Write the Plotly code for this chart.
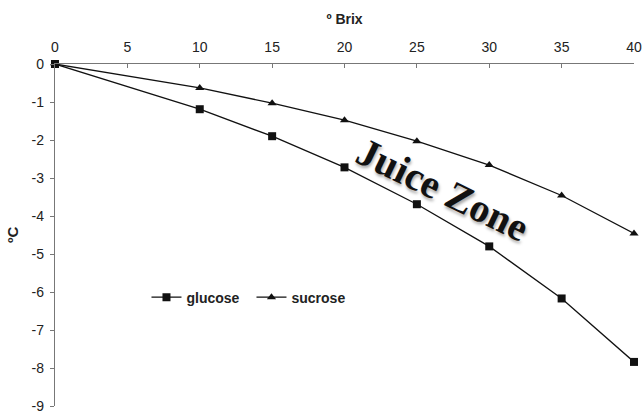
import plotly.graph_objects as go

brix = [0, 10, 15, 20, 25, 30, 35, 40]
glucose = [0, -1.19, -1.9, -2.72, -3.69, -4.8, -6.17, -7.84]
sucrose = [0, -0.63, -1.03, -1.48, -2.03, -2.66, -3.46, -4.46]
x_ticks = [0, 5, 10, 15, 20, 25, 30, 35, 40]
y_ticks = [0, -1, -2, -3, -4, -5, -6, -7, -8, -9]

FONT = "Liberation Sans, Arial, sans-serif"

fig = go.Figure()
fig.add_trace(go.Scatter(
    x=brix, y=glucose, name="glucose", mode="lines+markers",
    line=dict(color="#111111", width=1.3),
    marker=dict(symbol="square", size=8, color="#111111"),
    cliponaxis=False,
))
fig.add_trace(go.Scatter(
    x=brix, y=sucrose, name="sucrose", mode="lines+markers",
    line=dict(color="#111111", width=1.3),
    marker=dict(symbol="triangle-up", size=8, color="#111111"),
    cliponaxis=False,
))

fig.add_annotation(
    x=26.8, y=-3.3, xref="x", yref="y", text="<b>Juice Zone</b>",
    showarrow=False, textangle=26,
    font=dict(family="Liberation Serif, Times New Roman, serif", size=40, color="#111111",
              shadow="2px 2px 3px #aaaaaa"),
)

# y-axis title placed as annotation for precise position
fig.add_annotation(
    x=0, y=0.5, xref="paper", yref="paper", xanchor="center", yanchor="middle",
    xshift=-43, text="<b>ºC</b>", showarrow=False, textangle=-90,
    font=dict(family=FONT, size=15, color="#222222"),
)

fig.update_layout(
    width=643, height=414,
    margin=dict(l=55, r=9, t=64, b=8),
    paper_bgcolor="white", plot_bgcolor="white",
    font=dict(family=FONT, size=14, color="#222222"),
    showlegend=True,
    legend=dict(orientation="h", x=0.158, y=0.317, xanchor="left", yanchor="middle",
                font=dict(family=FONT, size=14, color="#222222", weight="bold"),
                bgcolor="rgba(0,0,0,0)", itemwidth=30, tracegroupgap=0,
                entrywidthmode="pixels", entrywidth=60),
    xaxis=dict(
        side="top", range=[0, 40], tickvals=x_ticks, ticktext=[str(v) for v in x_ticks],
        showgrid=False, zeroline=False, showline=True, linecolor="#777777", linewidth=1.3,
        ticks="inside", ticklen=4, tickcolor="#777777", automargin=False,
        ticklabelstandoff=5,
        title=dict(text="<b>º Brix</b>", font=dict(family=FONT, size=14, color="#222222"), standoff=11),
        tickfont=dict(family=FONT, size=14, color="#222222"),
    ),
    yaxis=dict(
        range=[-9, 0], tickvals=y_ticks, ticktext=[str(v) for v in y_ticks],
        showgrid=False, zeroline=False, showline=True, linecolor="#777777", linewidth=1.3,
        ticks="outside", ticklen=4, tickcolor="#777777", automargin=False,
        ticklabelstandoff=3,
        tickfont=dict(family=FONT, size=14, color="#222222"),
    ),
)

fig.write_html("out.html", config={"displayModeBar": False},
               post_script="document.body.style.margin='0';")
